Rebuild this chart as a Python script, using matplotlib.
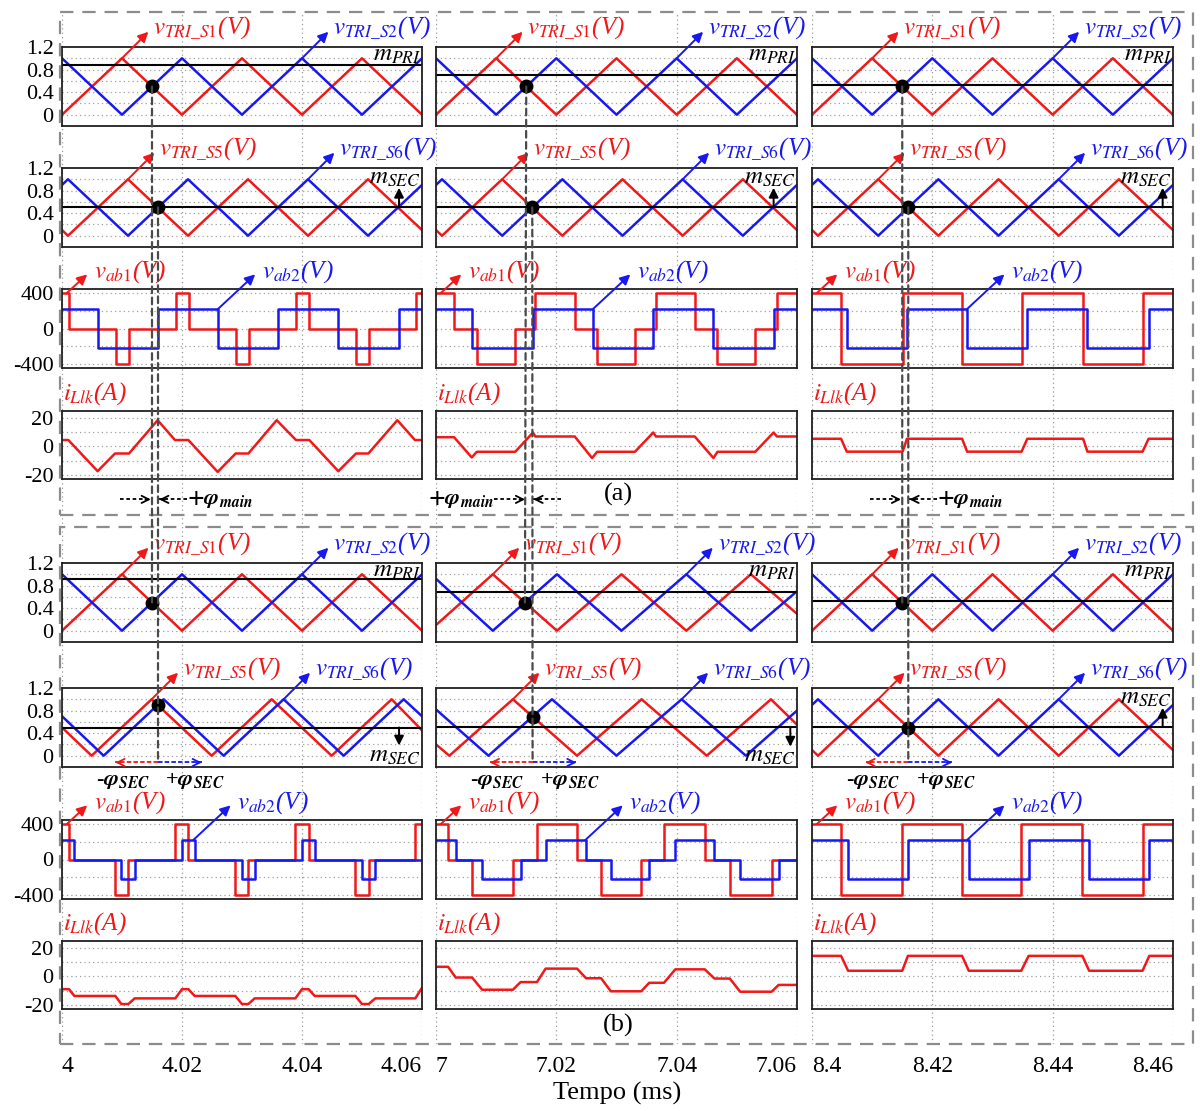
import matplotlib.pyplot as plt
from matplotlib.patches import ConnectionPatch, Rectangle

plt.rcParams['font.family'] = ['Liberation Serif', 'DejaVu Serif']
plt.rcParams['mathtext.fontset'] = 'stix'

RED = '#f01818'
BLUE = '#1818f0'

# ---------------- data (time in ms) ----------------
xt = [[4.0, 4.02, 4.04, 4.06], [7.0, 7.02, 7.04, 7.06], [8.4, 8.42, 8.44, 8.46]]
xt_lbl = [['4', '4.02', '4.04', '4.06'], ['7', '7.02', '7.04', '7.06'], ['8.4', '8.42', '8.44', '8.46']]

# (a) carriers
a_s12_t = [[4.00, 4.01, 4.02, 4.03, 4.04, 4.05, 4.06],
           [7.00, 7.01, 7.02, 7.03, 7.04, 7.05, 7.06],
           [8.40, 8.41, 8.42, 8.43, 8.44, 8.45, 8.46]]
a_s1_v = [0, 1, 0, 1, 0, 1, 0]
a_s2_v = [1, 0, 1, 0, 1, 0, 1]
a_s56_t = [[4.000, 4.001, 4.011, 4.021, 4.031, 4.041, 4.051, 4.060],
           [7.000, 7.001, 7.011, 7.021, 7.031, 7.041, 7.051, 7.060],
           [8.400, 8.401, 8.411, 8.421, 8.431, 8.441, 8.451, 8.460]]
a_s5_v = [0.1, 0, 1, 0, 1, 0, 1, 0.1]
a_s6_v = [0.9, 1, 0, 1, 0, 1, 0, 0.9]
m_pri_a = [0.88, 0.70, 0.52]
m_sec_a = [0.5, 0.5, 0.5]

# (b) carriers
b_s12_t = [[4.00, 4.01, 4.02, 4.03, 4.04, 4.05, 4.06],
           [7.00, 7.00944, 7.02011, 7.03083, 7.04161, 7.05233, 7.06],
           [8.40, 8.41, 8.42, 8.43, 8.44, 8.45, 8.46]]
b_s1_v = [[0, 1, 0, 1, 0, 1, 0], [0.1, 1, 0, 1, 0, 1, 0.3], [0, 1, 0, 1, 0, 1, 0]]
b_s2_v = [[1, 0, 1, 0, 1, 0, 1], [0.92, 0, 1, 0, 1, 0, 0.7], [1, 0, 1, 0, 1, 0, 1]]
b_s5_t = [[4.00, 4.00494, 4.01494, 4.02494, 4.03494, 4.04494, 4.05494, 4.06],
          [7.00, 7.00222, 7.01278, 7.02344, 7.03417, 7.045, 7.05567, 7.06],
          [8.40, 8.401, 8.411, 8.421, 8.431, 8.441, 8.451, 8.46]]
b_s5_v = [[0.5, 0, 1, 0, 1, 0, 1, 0.45], [0.2, 0, 1, 0, 1, 0, 1, 0.55], [0.1, 0, 1, 0, 1, 0, 1, 0.1]]
b_s6_t = [[4.00, 4.00694, 4.01694, 4.02694, 4.03694, 4.04694, 4.05694, 4.06],
          [7.00, 7.00872, 7.01928, 7.03, 7.04083, 7.0515, 7.06],
          [8.40, 8.401, 8.411, 8.421, 8.431, 8.441, 8.451, 8.46]]
b_s6_v = [[0.7, 0, 1, 0, 1, 0, 1, 0.7], [0.82, 0, 1, 0, 1, 0, 0.8], [0.9, 1, 0, 1, 0, 1, 0, 0.9]]
m_pri_b = [0.92, 0.69, 0.53]
m_sec_b = [0.5, 0.51, 0.51]

# crossing points (black dots)
a_dot1_t = [4.015, 7.015, 8.415]
a_dot2_t = [4.016, 7.016, 8.416]
b_dot1_t = [4.015, 7.01478, 8.415]
b_dot2_t = [4.016, 7.01605, 8.416]
b_dot2_v = [0.9, 0.69, 0.5]

# (a) bridge voltages
a_vab1_t = [[4.0, 4.00117, 4.00894, 4.01122, 4.01894, 4.02117, 4.02894, 4.03117, 4.03894, 4.04122, 4.04894, 4.05122, 4.05894, 4.06],
            [7.0, 7.003, 7.00678, 7.01317, 7.0165, 7.02306, 7.02678, 7.03306, 7.03656, 7.043, 7.04678, 7.05306, 7.05667, 7.06],
            [8.4, 8.40483, 8.41506, 8.42494, 8.43483, 8.44506, 8.45494, 8.46]]
a_vab1_v = [[400, 0, -400, 0, 400, 0, -400, 0, 400, 0, -400, 0, 400, 400],
            [400, 0, -400, 0, 400, 0, -400, 0, 400, 0, -400, 0, 400, 400],
            [400, -400, 400, -400, 400, -400, 400, 400]]
a_vab2_t = [[4.0, 4.00594, 4.01606, 4.02606, 4.03606, 4.04606, 4.05617, 4.06],
            [7.0, 7.00594, 7.01611, 7.02611, 7.03611, 7.04611, 7.05611, 7.06],
            [8.4, 8.40578, 8.41578, 8.42578, 8.43578, 8.44578, 8.45594, 8.46]]
a_vab2_v = [220, -220, 220, -220, 220, -220, 220, 220]

# (a) leakage current
a_il_t = [[4.0, 4.00106, 4.00594, 4.00883, 4.01117, 4.01594, 4.01883, 4.02106, 4.02594, 4.02894,
           4.03106, 4.03578, 4.039, 4.04122, 4.04606, 4.049, 4.05106, 4.05589, 4.05883, 4.06],
          [7.0, 7.003, 7.00594, 7.00678, 7.01317, 7.01611, 7.0165, 7.02306, 7.02594, 7.02678,
           7.03306, 7.03611, 7.03656, 7.043, 7.04611, 7.04678, 7.05306, 7.05611, 7.05667, 7.06],
          [8.4, 8.40483, 8.40578, 8.41506, 8.41578, 8.42494, 8.42578, 8.43483, 8.43578, 8.44506,
           8.44578, 8.45494, 8.45594, 8.46]]
a_il_v = [[4.5, 4.5, -17.5, -5, -5, 18.5, 4.5, 4.5, -18, -5, -5, 18.5, 4.5, 4.5, -17.5, -5, -5, 18.5, 4.5, 4.5],
          [6.5, 6.5, -7.8, -3.8, -3.8, 9.8, 7, 7, -8.2, -3.8, -3.8, 9.8, 7, 7, -8.2, -3.8, -3.8, 9.8, 7, 7],
          [5.4, 5.4, -3.7, -3.7, 5.4, 5.4, -3.7, -3.7, 5.4, 5.4, -3.7, -3.7, 5.4, 5.4]]

# (b) bridge voltages
b_vab1_t = [[4.0, 4.00117, 4.00889, 4.01106, 4.01889, 4.02106, 4.02889, 4.03106, 4.03889, 4.04111, 4.04889, 4.05111, 4.05889, 4.06],
            [7.0, 7.002, 7.006, 7.01278, 7.01678, 7.02344, 7.02744, 7.03411, 7.03789, 7.04467, 7.04883, 7.05578, 7.06],
            [8.4, 8.40483, 8.415, 8.42494, 8.43478, 8.44494, 8.45494, 8.46]]
b_vab1_v = [[400, 0, -400, 0, 400, 0, -400, 0, 400, 0, -400, 0, 400, 400],
            [400, 0, -400, 0, 400, 0, -400, 0, 400, 0, -400, 0, 0],
            [400, -400, 400, -400, 400, -400, 400, 400]]
b_vab2_t = [[4.0, 4.00206, 4.00989, 4.01211, 4.02, 4.02211, 4.03, 4.03211, 4.04, 4.04211, 4.05, 4.05222, 4.06],
            [7.0, 7.00328, 7.00767, 7.01406, 7.01822, 7.02494, 7.02906, 7.03544, 7.03978, 7.04628, 7.05056, 7.05694, 7.06],
            [8.4, 8.406, 8.41594, 8.42606, 8.436, 8.44606, 8.45606, 8.46]]
b_vab2_v = [[220, 0, -220, 0, 220, 0, -220, 0, 220, 0, -220, 0, 0],
            [220, 0, -220, 0, 220, 0, -220, 0, 220, 0, -220, 0, 0],
            [220, -220, 220, -220, 220, -220, 220, 220]]

# (b) leakage current
b_il_t = [[4.0, 4.00117, 4.00206, 4.00889, 4.00989, 4.01106, 4.01211, 4.01889, 4.02, 4.02106, 4.02211, 4.02889,
           4.03, 4.03106, 4.03211, 4.03889, 4.04, 4.04111, 4.04211, 4.04889, 4.05, 4.05111, 4.05222, 4.05889, 4.06],
          [7.0, 7.002, 7.00328, 7.006, 7.00767, 7.01278, 7.01406, 7.01678, 7.01822, 7.02344, 7.02494, 7.02744,
           7.02906, 7.03411, 7.03544, 7.03789, 7.03978, 7.04467, 7.04628, 7.04883, 7.05056, 7.05578, 7.05694, 7.06],
          [8.4, 8.40483, 8.406, 8.415, 8.41594, 8.42494, 8.42606, 8.43478, 8.436, 8.44494, 8.44606, 8.45494, 8.45606, 8.46]]
b_il_v = [[-9, -9, -13.8, -13.8, -19.5, -19.5, -15.5, -15.5, -9, -9, -13.8, -13.8, -19.5, -19.5, -15.5, -15.5,
           -9, -9, -13.8, -13.8, -19.5, -19.5, -15.5, -15.5, -8],
          [6.8, 6.8, -0.8, -0.8, -9.4, -9.4, -4, -4, 5.5, 5.5, -1.3, -1.3, -10.5, -10.5, -4.5, -4.5,
           5, 5, -1.5, -1.5, -10.8, -10.8, -6, -6],
          [14.5, 14.5, 4, 4, 14.5, 14.5, 4, 4, 14.5, 14.5, 4, 4, 14.5, 14.5]]

# ---------------- layout ----------------
fig = plt.figure(figsize=(12, 11.11), dpi=100)
W, H = 1200.0, 1111.0


def px_axes(x0, x1, y0, y1):
    return fig.add_axes([x0 / W, 1 - y1 / H, (x1 - x0) / W, (y1 - y0) / H])


col_px = [(62, 422), (436, 797), (812, 1173)]
row_px = [(47, 126), (168, 247), (289, 368), (411, 479),
          (563, 642), (688, 767), (820, 899), (941, 1009)]

# background axes carrying the vertical grid and the time labels
for c in range(3):
    bg = px_axes(col_px[c][0], col_px[c][1], 12, 1044)
    bg.set_xlim(xt[c][0], xt[c][-1])
    bg.set_ylim(0, 1)
    bg.set_xticks(xt[c])
    bg.set_xticklabels(xt_lbl[c], fontsize=17)
    bg.set_yticks([])
    for s in bg.spines.values():
        s.set_visible(False)
    bg.tick_params(axis='x', length=0, pad=9)
    bg.grid(axis='x', color='#9a9a9a', ls=(0, (1, 2.5)), lw=0.9)
    bg.patch.set_alpha(0)
    lbls = bg.get_xticklabels()
    lbls[0].set_ha('left')
    lbls[-1].set_ha('right')

kinds = ['tri', 'tri', 'vab', 'il', 'tri', 'tri', 'vab', 'il']
ylims = {'tri': (-0.2, 1.2), 'vab': (-445, 445), 'il': (-23, 25)}
yticks = {'tri': [0, 0.4, 0.8, 1.2], 'vab': [-400, 0, 400], 'il': [-20, 0, 20]}
ytl = {'tri': ['0', '0.4', '0.8', '1.2'], 'vab': ['-400', '0', '400'], 'il': ['-20', '0', '20']}
ygrid = {'tri': [0, 0.2, 0.4, 0.6, 0.8, 1.0], 'vab': [-400, -200, 0, 200, 400], 'il': [-20, -10, 0, 10, 20]}

axs = [[None] * 3 for _ in range(8)]
for r in range(8):
    k = kinds[r]
    for c in range(3):
        ax = px_axes(col_px[c][0], col_px[c][1], *row_px[r])
        ax.set_xlim(xt[c][0], xt[c][-1])
        ax.set_ylim(*ylims[k])
        ax.patch.set_alpha(0)
        ax.set_xticks([])
        for g in ygrid[k]:
            ax.axhline(g, color='#a0a0a0', ls=(0, (1, 2.5)), lw=0.9, zorder=0)
        if c == 0:
            ax.set_yticks(yticks[k])
            ax.set_yticklabels(ytl[k], fontsize=16)
            ax.tick_params(axis='y', length=0, pad=6)
        else:
            ax.set_yticks([])
        for s in ax.spines.values():
            s.set_linewidth(1.3)
            s.set_color('#202020')
        axs[r][c] = ax


def tag(ax, text, color, p_from, p_to, p_txt, size=18):
    ax.annotate('', xy=p_to, xytext=p_from,
                arrowprops=dict(arrowstyle='-|>', color=color, lw=1.4, mutation_scale=15,
                                shrinkA=0, shrinkB=0), annotation_clip=False)
    ax.text(p_txt[0], p_txt[1], text, color=color, fontsize=size, style='italic',
            ha='left', va='baseline', clip_on=False)


def tri_tags(ax, names, tr, tb):
    tag(ax, names[0], RED, (tr, 1.0), (tr + 0.0044, 1.47), (tr + 0.0052, 1.43))
    tag(ax, names[1], BLUE, (tb, 1.0), (tb + 0.0044, 1.47), (tb + 0.0052, 1.43))


def vab_tags(ax, t0, tb):
    tag(ax, r'$v_{\mathit{ab1}}$(V)', RED, (t0 + 0.0008, 400), (t0 + 0.0042, 610), (t0 + 0.0053, 570))
    tag(ax, r'$v_{\mathit{ab2}}$(V)', BLUE, (tb, 220), (tb + 0.0062, 610), (tb + 0.0073, 570))


def dash_arrow(ax, x_from, x_to, y, color, ls=(0, (2, 1.5))):
    ax.plot([x_from, x_to], [y, y], color=color, lw=1.3, ls=ls, clip_on=False, zorder=6)
    d = 0.0009 if x_to > x_from else -0.0009
    ax.annotate('', xy=(x_to, y), xytext=(x_to - d, y),
                arrowprops=dict(arrowstyle='->', color=color, lw=1.3, mutation_scale=13,
                                shrinkA=0, shrinkB=0), annotation_clip=False)


S12 = [r'$v_{\mathit{TRI\_S1}}$(V)', r'$v_{\mathit{TRI\_S2}}$(V)']
S56 = [r'$v_{\mathit{TRI\_S5}}$(V)', r'$v_{\mathit{TRI\_S6}}$(V)']
ILK = r'$i_{Llk}$(A)'
MPRI = r'$m_{PRI}$'
MSEC = r'$m_{SEC}$'

a_vab2_tag = [4.026, 7.0261, 8.42578]
b_vab2_tag = [4.02189, 7.02483, 8.42578]
b_s12_tag = [(4.01, 4.04), (7.00944, 7.04161), (8.41, 8.44)]
b_s56_tag = [(4.01494, 4.03694), (7.01278, 7.04083), (8.411, 8.441)]
a_msec_x = [4.05617, 7.05611, 8.45828]
b_msec_x = [4.05617, 7.05889, 8.45828]
b_msec_end = [0.18, 0.16, 0.85]

for c in range(3):
    t0 = xt[c][0]
    t1 = xt[c][-1]
    # ---- (a) ----
    ax = axs[0][c]
    ax.plot(a_s12_t[c], a_s1_v, color=RED, lw=1.8)
    ax.plot(a_s12_t[c], a_s2_v, color=BLUE, lw=1.8)
    ax.axhline(m_pri_a[c], color='k', lw=1.5)
    ax.plot(a_dot1_t[c], 0.5, 'o', color='k', ms=9, zorder=8)
    ax.text(t1 - 0.0002, 0.95, MPRI, fontsize=18, ha='right', va='baseline')
    tri_tags(ax, S12, t0 + 0.01, t0 + 0.04)

    ax = axs[1][c]
    ax.plot(a_s56_t[c], a_s5_v, color=RED, lw=1.8)
    ax.plot(a_s56_t[c], a_s6_v, color=BLUE, lw=1.8)
    ax.axhline(m_sec_a[c], color='k', lw=1.5)
    ax.plot(a_dot2_t[c], 0.5, 'o', color='k', ms=9, zorder=8)
    ax.text(t1 - 0.0002, 0.93, MSEC, fontsize=18, ha='right', va='baseline')
    ax.annotate('', xy=(a_msec_x[c], 0.85), xytext=(a_msec_x[c], m_sec_a[c]),
                arrowprops=dict(arrowstyle='-|>', color='k', lw=1.4, mutation_scale=14, shrinkA=0, shrinkB=0))
    tri_tags(ax, S56, t0 + 0.011, t0 + 0.041)

    ax = axs[2][c]
    ax.plot(a_vab1_t[c], a_vab1_v[c], color=RED, lw=1.8, drawstyle='steps-post')
    ax.plot(a_vab2_t[c], a_vab2_v, color=BLUE, lw=1.8, drawstyle='steps-post')
    vab_tags(ax, t0, a_vab2_tag[c])

    ax = axs[3][c]
    ax.plot(a_il_t[c], a_il_v[c], color=RED, lw=1.8)
    ax.text(t0 + 0.0001, 33, ILK, color=RED, fontsize=18, style='italic',
            ha='left', va='baseline', clip_on=False)
    # phi_main marks
    ya = -37.4
    dash_arrow(ax, a_dot1_t[c] - 0.0053, a_dot1_t[c] - 0.0002, ya, 'k')
    dash_arrow(ax, a_dot2_t[c] + 0.0048, a_dot2_t[c] + 0.0002, ya, 'k')
    phm = r'$\mathbf{+}\mathbfit{\varphi}_{\mathbfit{main}}$'
    if c == 1:
        ax.text(a_dot1_t[c] - 0.0053, ya, phm, fontsize=16, ha='right', va='center')
    else:
        ax.text(a_dot2_t[c] + 0.0048, ya, phm, fontsize=16, ha='left', va='center')

    # ---- (b) ----
    ax = axs[4][c]
    ax.plot(b_s12_t[c], b_s1_v[c], color=RED, lw=1.8)
    ax.plot(b_s12_t[c], b_s2_v[c], color=BLUE, lw=1.8)
    ax.axhline(m_pri_b[c], color='k', lw=1.5)
    ax.plot(b_dot1_t[c], 0.5, 'o', color='k', ms=9, zorder=8)
    ax.text(t1 - 0.0002, 0.95, MPRI, fontsize=18, ha='right', va='baseline')
    tri_tags(ax, S12, *b_s12_tag[c])

    ax = axs[5][c]
    ax.plot(b_s5_t[c], b_s5_v[c], color=RED, lw=1.8)
    ax.plot(b_s6_t[c], b_s6_v[c], color=BLUE, lw=1.8)
    ax.axhline(m_sec_b[c], color='k', lw=1.5)
    ax.plot(b_dot2_t[c], b_dot2_v[c], 'o', color='k', ms=9, zorder=8)
    if b_msec_end[c] < 0.5:
        ax.text(t1 - 0.0002, -0.1, MSEC, fontsize=18, ha='right', va='baseline')
    else:
        ax.text(t1 - 0.0002, 0.93, MSEC, fontsize=18, ha='right', va='baseline')
    ax.annotate('', xy=(b_msec_x[c], b_msec_end[c]), xytext=(b_msec_x[c], m_sec_b[c]),
                arrowprops=dict(arrowstyle='-|>', color='k', lw=1.4, mutation_scale=14, shrinkA=0, shrinkB=0))
    tri_tags(ax, S56, *b_s56_tag[c])
    yb = -0.12
    dash_arrow(ax, b_dot2_t[c], b_dot2_t[c] - 0.0071, yb, RED, ls=(0, (2.5, 1.2)))
    dash_arrow(ax, b_dot2_t[c], b_dot2_t[c] + 0.0073, yb, BLUE, ls=(0, (2.5, 1.2)))
    ax.text(b_dot2_t[c] - 0.0058, -0.45, r'-$\mathbfit{\varphi}_{\mathbfit{SEC}}$',
            fontsize=16, fontweight='bold', ha='center', va='center', clip_on=False)
    ax.text(b_dot2_t[c] + 0.0062, -0.45, r'+$\mathbfit{\varphi}_{\mathbfit{SEC}}$',
            fontsize=16, fontweight='bold', ha='center', va='center', clip_on=False)

    ax = axs[6][c]
    ax.plot(b_vab1_t[c], b_vab1_v[c], color=RED, lw=1.8, drawstyle='steps-post')
    ax.plot(b_vab2_t[c], b_vab2_v[c], color=BLUE, lw=1.8, drawstyle='steps-post')
    vab_tags(ax, t0, b_vab2_tag[c])

    ax = axs[7][c]
    ax.plot(b_il_t[c], b_il_v[c], color=RED, lw=1.8)
    ax.text(t0 + 0.0001, 33, ILK, color=RED, fontsize=18, style='italic',
            ha='left', va='baseline', clip_on=False)

    # dashed guide lines linking the crossing points
    for A, ya_, B, yb_, tA, tB in [(axs[0][c], 0.5, axs[4][c], 0.5, a_dot1_t[c], b_dot1_t[c]),
                                   (axs[1][c], 0.5, axs[5][c], -0.12, a_dot2_t[c], b_dot2_t[c])]:
        con = ConnectionPatch(xyA=(tA, ya_), coordsA='data', axesA=A,
                              xyB=(tB, yb_), coordsB='data', axesB=B,
                              color='#4a4a4a', lw=1.6, ls=(0, (3, 2)), zorder=7)
        fig.add_artist(con)

# dashed group frames
for y0, y1 in [(12, 515), (527, 1044)]:
    fig.add_artist(Rectangle((60 / W, 1 - y1 / H), (1193 - 60) / W, (y1 - y0) / H,
                             transform=fig.transFigure, fill=False, ec='#8c8c8c',
                             lw=1.6, ls=(0, (6, 4))))

fig.text(618 / W, 1 - 494 / H, '(a)', fontsize=19, ha='center', va='center')
fig.text(618 / W, 1 - 1025 / H, '(b)', fontsize=19, ha='center', va='center')
fig.text(617 / W, 1 - 1093 / H, 'Tempo (ms)', fontsize=19, ha='center', va='center')

fig.savefig('out.png', dpi=100)
